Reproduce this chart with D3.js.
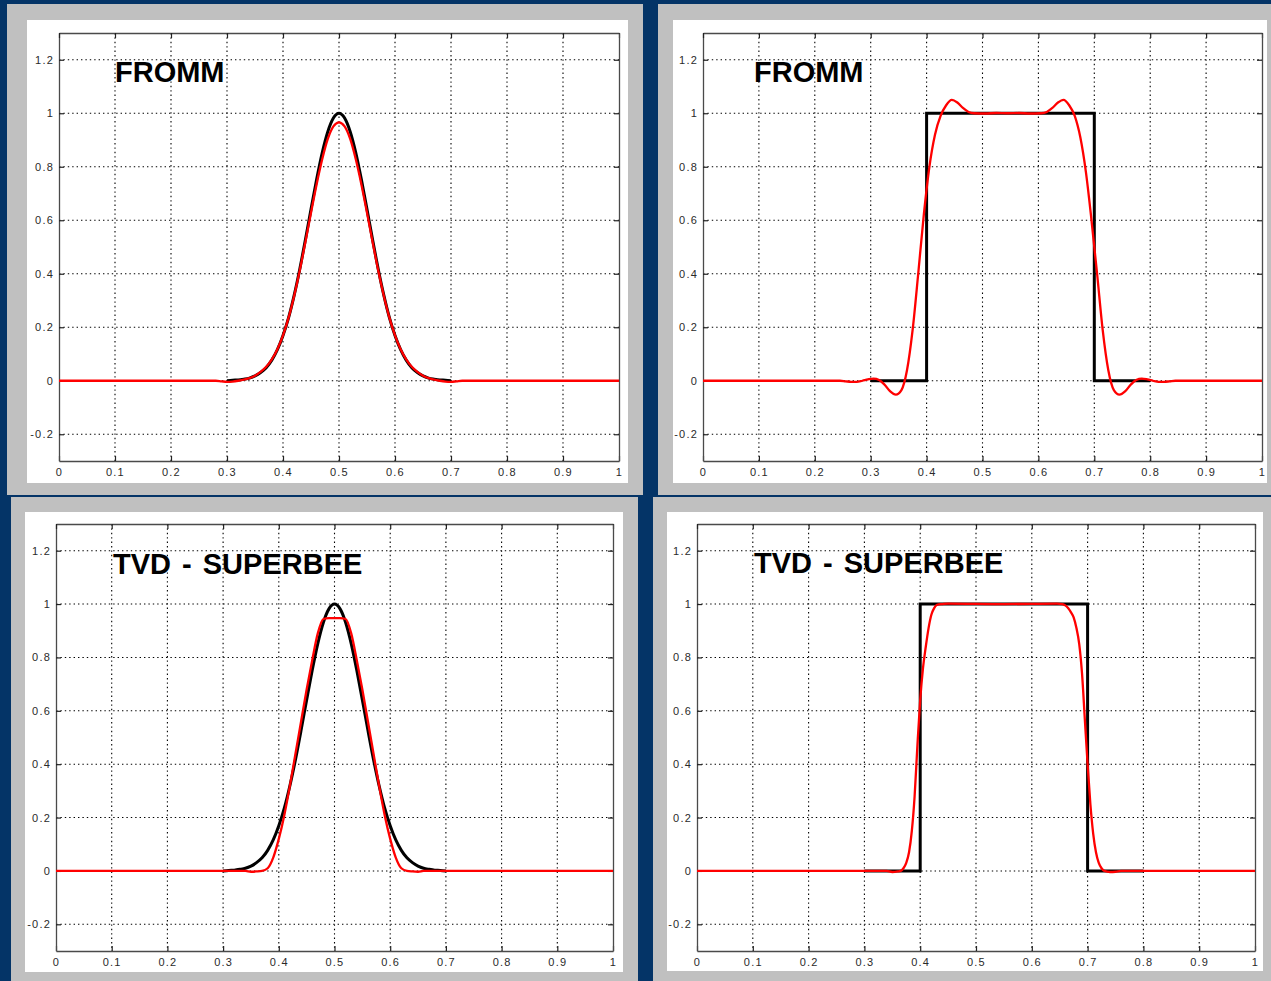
<!DOCTYPE html>
<html>
<head>
<meta charset="utf-8">
<script src="https://cdn.jsdelivr.net/npm/d3@7"></script>
<style>
  html, body { margin: 0; padding: 0; background: #043467; overflow: hidden; }
  svg { display: block; }
</style>
</head>
<body>
<svg id="chart" width="1271" height="981"></svg>
<script>
// tick values and labels
var xTicks = [0, 0.1, 0.2, 0.3, 0.4, 0.5, 0.6, 0.7, 0.8, 0.9, 1]
var xTickLabels = ['0', '0.1', '0.2', '0.3', '0.4', '0.5', '0.6', '0.7', '0.8', '0.9', '1']
var yTicks = [-0.2, 0, 0.2, 0.4, 0.6, 0.8, 1, 1.2]
var yTickLabels = ['-0.2', '0', '0.2', '0.4', '0.6', '0.8', '1', '1.2']
var titles = ['FROMM', 'FROMM', 'TVD - SUPERBEE', 'TVD - SUPERBEE']

// exact solutions (black)
var bumpExactX = [0.30, 0.31, 0.32, 0.33, 0.34, 0.35, 0.36, 0.37, 0.38, 0.39, 0.40,
  0.41, 0.42, 0.43, 0.44, 0.45, 0.46, 0.47, 0.48, 0.49, 0.50,
  0.51, 0.52, 0.53, 0.54, 0.55, 0.56, 0.57, 0.58, 0.59, 0.60,
  0.61, 0.62, 0.63, 0.64, 0.65, 0.66, 0.67, 0.68, 0.69, 0.70]
var bumpExactY = [0.000, 0.002, 0.003, 0.006, 0.010, 0.018, 0.031, 0.049, 0.077, 0.116, 0.169,
  0.236, 0.320, 0.418, 0.527, 0.641, 0.752, 0.852, 0.931, 0.982, 1.000,
  0.982, 0.931, 0.852, 0.752, 0.641, 0.527, 0.418, 0.320, 0.236, 0.169,
  0.116, 0.077, 0.049, 0.031, 0.018, 0.010, 0.006, 0.003, 0.002, 0.000]
var squareExactX = [0.30, 0.40, 0.40, 0.70, 0.70, 0.80]
var squareExactY = [0, 0, 1, 1, 0, 0]

// numerical solutions (red)
var frommBumpX = [0, 0.28, 0.29, 0.30, 0.31, 0.32, 0.33, 0.34, 0.35, 0.36, 0.37, 0.38, 0.39, 0.40,
  0.41, 0.42, 0.43, 0.44, 0.45, 0.46, 0.47, 0.48, 0.49, 0.50,
  0.51, 0.52, 0.53, 0.54, 0.55, 0.56, 0.57, 0.58, 0.59, 0.60,
  0.61, 0.62, 0.63, 0.64, 0.65, 0.66, 0.67, 0.68, 0.69, 0.70, 0.71, 0.72, 1]
var frommBumpY = [0, 0, -0.002, -0.004, -0.003, 0.000, 0.004, 0.010, 0.019, 0.033, 0.052, 0.080, 0.118, 0.170,
  0.236, 0.318, 0.413, 0.519, 0.628, 0.734, 0.828, 0.904, 0.951, 0.966,
  0.951, 0.904, 0.828, 0.734, 0.628, 0.519, 0.413, 0.318, 0.236, 0.170,
  0.118, 0.080, 0.052, 0.033, 0.019, 0.010, 0.004, 0.000, -0.003, -0.004, -0.002, 0, 0]

var superbeeBumpX = [0, 0.34, 0.35, 0.36, 0.37, 0.38, 0.39, 0.40,
  0.41, 0.42, 0.43, 0.44, 0.45, 0.46, 0.47, 0.48, 0.49, 0.50,
  0.51, 0.52, 0.53, 0.54, 0.55, 0.56, 0.57, 0.58, 0.59, 0.60,
  0.61, 0.62, 0.63, 0.64, 0.65, 0.66, 1]
var superbeeBumpY = [0, 0, -0.003, -0.002, 0.000, 0.010, 0.050, 0.120,
  0.210, 0.320, 0.440, 0.560, 0.680, 0.790, 0.890, 0.944, 0.947, 0.947,
  0.947, 0.944, 0.890, 0.790, 0.680, 0.560, 0.440, 0.320, 0.210, 0.120,
  0.050, 0.010, 0.000, -0.002, -0.003, 0, 0]

var frommSquareX = [0, 0.245, 0.255, 0.265, 0.275, 0.285, 0.295, 0.305, 0.315, 0.325, 0.335,
  0.345, 0.355, 0.365, 0.375, 0.385, 0.395, 0.405, 0.415, 0.425, 0.435,
  0.445, 0.455, 0.465, 0.475, 0.485, 0.505, 0.525, 0.545, 0.565, 0.585,
  0.605, 0.615, 0.625, 0.635, 0.645, 0.655, 0.665, 0.675, 0.685, 0.695,
  0.705, 0.715, 0.725, 0.735, 0.745, 0.755, 0.765, 0.775, 0.785, 0.795,
  0.805, 0.815, 0.825, 0.835, 0.845, 1]
var frommSquareY = [0, 0, -0.002, -0.004, -0.004, 0.000, 0.005, 0.008, 0.003, -0.015, -0.040,
  -0.052, -0.035, 0.040, 0.190, 0.400, 0.620, 0.800, 0.920, 0.990, 1.030,
  1.050, 1.040, 1.020, 1.005, 1.000, 0.999, 1.001, 1.000, 1.001, 0.999,
  1.000, 1.005, 1.020, 1.040, 1.050, 1.030, 0.990, 0.910, 0.780, 0.600,
  0.400, 0.190, 0.040, -0.035, -0.052, -0.040, -0.015, 0.003, 0.008, 0.005,
  0.000, -0.004, -0.004, -0.002, 0.000, 0]

var superbeeSquareX = [0, 0.340, 0.350, 0.360, 0.365, 0.370, 0.375, 0.380, 0.385, 0.390, 0.395,
  0.400, 0.405, 0.410, 0.415, 0.420, 0.425, 0.430, 0.440, 0.450, 0.550,
  0.645, 0.655, 0.660, 0.665, 0.670, 0.675, 0.680, 0.685, 0.690, 0.695,
  0.700, 0.705, 0.710, 0.715, 0.720, 0.725, 0.730, 0.740, 0.750, 0.760, 1]
var superbeeSquareY = [0, 0, -0.004, -0.002, 0.000, 0.010, 0.030, 0.070, 0.150, 0.280, 0.470,
  0.640, 0.760, 0.840, 0.910, 0.960, 0.985, 0.997, 1.000, 1.002, 1.000,
  1.002, 1.000, 0.995, 0.985, 0.970, 0.950, 0.910, 0.850, 0.740, 0.570,
  0.400, 0.250, 0.140, 0.070, 0.030, 0.010, 0.000, -0.004, -0.003, 0.000, 0]

function zipXY(xs, ys) {
  return xs.map((x, i) => [x, ys[i]])
}

// panel layout: grey frame, white paper, plot box, title anchor
var panels = [
  { frame: [7, 4, 643, 495], paper: [27, 20, 628, 483], plot: [59, 33, 619, 461], title: [115, 82],
    exact: zipXY(bumpExactX, bumpExactY), num: zipXY(frommBumpX, frommBumpY), smooth: true },
  { frame: [658, 4, 1271, 495], paper: [673, 20, 1267, 483], plot: [703, 33, 1262, 461], title: [754, 82],
    exact: zipXY(squareExactX, squareExactY), num: zipXY(frommSquareX, frommSquareY), smooth: false },
  { frame: [11, 497, 638, 981], paper: [25, 512, 623, 972], plot: [56, 524, 613, 951], title: [113, 574],
    exact: zipXY(bumpExactX, bumpExactY), num: zipXY(superbeeBumpX, superbeeBumpY), smooth: true },
  { frame: [653, 497, 1271, 981], paper: [667, 512, 1263, 971], plot: [697, 524, 1255, 951], title: [754, 573],
    exact: zipXY(squareExactX, squareExactY), num: zipXY(superbeeSquareX, superbeeSquareY), smooth: false }
]

var svg = d3.select('#chart')

svg.append('rect')
  .attr('width', 1271)
  .attr('height', 981)
  .attr('fill', '#043467')

panels.forEach((p, i) => {
  var g = svg.append('g')

  g.append('rect')
    .attr('x', p.frame[0])
    .attr('y', p.frame[1])
    .attr('width', p.frame[2] - p.frame[0])
    .attr('height', p.frame[3] - p.frame[1])
    .attr('fill', '#c0c0c0')

  g.append('rect')
    .attr('x', p.paper[0])
    .attr('y', p.paper[1])
    .attr('width', p.paper[2] - p.paper[0])
    .attr('height', p.paper[3] - p.paper[1])
    .attr('fill', '#ffffff')

  var x = d3.scaleLinear().domain([0, 1]).range([p.plot[0], p.plot[2]])
  var y = d3.scaleLinear().domain([-0.3, 1.3]).range([p.plot[3], p.plot[1]])

  // dotted grid
  g.selectAll('.vgrid')
    .data(xTicks.slice(1, -1))
    .enter()
    .append('line')
    .attr('x1', d => x(d))
    .attr('x2', d => x(d))
    .attr('y1', p.plot[1])
    .attr('y2', p.plot[3])
    .attr('stroke', '#000')
    .attr('stroke-width', 1.1)
    .attr('stroke-dasharray', '1.4,3')

  g.selectAll('.hgrid')
    .data(yTicks)
    .enter()
    .append('line')
    .attr('x1', p.plot[0])
    .attr('x2', p.plot[2])
    .attr('y1', d => y(d))
    .attr('y2', d => y(d))
    .attr('stroke', '#000')
    .attr('stroke-width', 1.1)
    .attr('stroke-dasharray', '1.4,3')

  // axes box with inward ticks
  var bottom = g.append('g')
    .attr('transform', `translate(0,${p.plot[3]})`)
    .call(d3.axisBottom(x).tickValues(xTicks)
      .tickFormat((d, k) => xTickLabels[k])
      .tickSizeInner(-5).tickSizeOuter(0).tickPadding(7))
  var left = g.append('g')
    .attr('transform', `translate(${p.plot[0]},0)`)
    .call(d3.axisLeft(y).tickValues(yTicks)
      .tickFormat((d, k) => yTickLabels[k])
      .tickSizeInner(-5).tickSizeOuter(0).tickPadding(5))
  var top = g.append('g')
    .attr('transform', `translate(0,${p.plot[1]})`)
    .call(d3.axisTop(x).tickValues(xTicks).tickFormat('')
      .tickSizeInner(-5).tickSizeOuter(0))
  var right = g.append('g')
    .attr('transform', `translate(${p.plot[2]},0)`)
    .call(d3.axisRight(y).tickValues(yTicks).tickFormat('')
      .tickSizeInner(-5).tickSizeOuter(0))

  ;[bottom, left, top, right].forEach(ax => {
    ax.select('.domain').attr('stroke', '#4a4a4a').attr('stroke-width', 1.3)
    ax.selectAll('.tick line').attr('stroke', '#222').attr('stroke-width', 1.2)
    ax.selectAll('.tick text')
      .attr('fill', '#2a2a2a')
      .attr('font-family', 'Liberation Sans, Arial, sans-serif')
      .attr('font-size', 11)
      .attr('letter-spacing', 1.2)
  })

  // curves
  var line = d3.line()
    .x(d => x(d[0]))
    .y(d => y(d[1]))

  g.append('path')
    .datum(p.exact)
    .attr('d', line.curve(p.smooth ? d3.curveMonotoneX : d3.curveLinear))
    .attr('fill', 'none')
    .attr('stroke', '#000')
    .attr('stroke-width', 3)

  g.append('path')
    .datum(p.num)
    .attr('d', line.curve(d3.curveMonotoneX))
    .attr('fill', 'none')
    .attr('stroke', '#ff0000')
    .attr('stroke-width', 2.3)

  g.append('text')
    .text(titles[i])
    .attr('x', p.title[0])
    .attr('y', p.title[1])
    .attr('font-family', 'Liberation Sans, Arial, sans-serif')
    .attr('font-weight', 700)
    .attr('font-size', 29)
    .attr('word-spacing', 3)
    .attr('fill', '#000')
})
</script>
</body>
</html>
